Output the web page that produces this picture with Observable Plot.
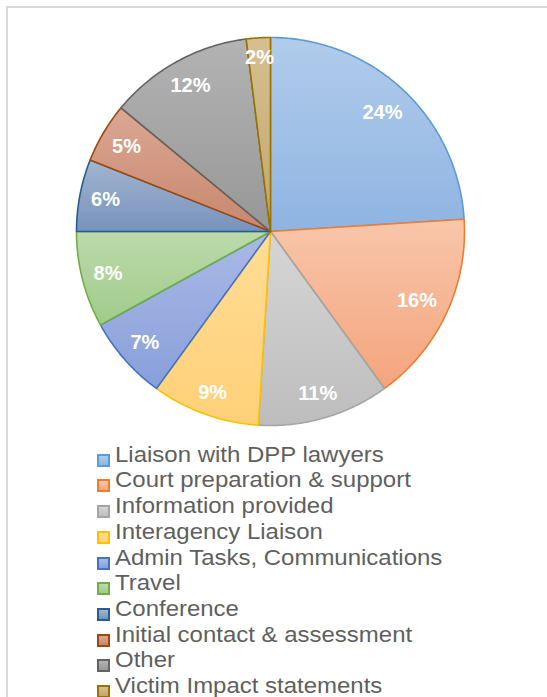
<!DOCTYPE html>
<html>
<head>
<meta charset="utf-8">
<script src="https://cdn.jsdelivr.net/npm/d3@7"></script>
<script src="https://cdn.jsdelivr.net/npm/@observablehq/plot@0.6"></script>
<style>
  html, body { margin: 0; padding: 0; background: #fff; }
  #wrap { position: relative; width: 547px; height: 697px; overflow: hidden; font-family: "Liberation Sans", Arial, sans-serif; }
  #frame { position: absolute; left: 6px; top: 6px; width: 700px; height: 900px; border: 2px solid #d9d9d9; box-sizing: border-box; }
  #chart { position: absolute; left: 0; top: 0; }
  #legend { position: absolute; left: 97px; top: 442.8px; }
  .row { position: absolute; left: 0; height: 25.7px; width: 420px; }
  .sw { position: absolute; left: 0; top: 11px; width: 13px; height: 13px; box-sizing: border-box; border: 2px solid; }
  .lab { position: absolute; left: 18px; top: 0; font-size: 21.5px; line-height: 25.7px; color: #5f5f5f; white-space: nowrap; transform: scaleX(1.115); transform-origin: 0 0; }
</style>
</head>
<body>
<div id="wrap">
  <div id="frame"></div>
  <div id="chart"></div>
  <div id="legend"></div>
</div>
<script>
const categories = [
  "Liaison with DPP lawyers",
  "Court preparation & support",
  "Information provided",
  "Interagency Liaison",
  "Admin Tasks, Communications",
  "Travel",
  "Conference",
  "Initial contact & assessment",
  "Other",
  "Victim Impact statements"
];
const values = [24, 16, 11, 9, 7, 8, 6, 5, 12, 2];
const strokeColors = ["#5B9BD5", "#ED7D31", "#A5A5A5", "#FFC000", "#4472C4", "#70AD47", "#255E91", "#9E480E", "#636363", "#997300"];
const fillTop    = ["#b1cceb", "#f8c6aa", "#d6d6d6", "#ffdd95", "#aabae6", "#bcdaab", "#a2b5d0", "#dba794", "#b3b3b3", "#d6bf92"];
const fillBottom = ["#8fb4e2", "#f4a47d", "#bdbdbd", "#ffd078", "#889fda", "#a1cb8a", "#7892bc", "#c7876c", "#979797", "#c3a66c"];

const total = d3.sum(values);
const pie = d3.pie().sort(null).value(d => d)(values);

// slice polygons in unit coordinates (angle measured clockwise from 12 o'clock)
const slices = pie.map((p, i) => {
  const pts = [{x: 0, y: 0}];
  const n = Math.max(2, Math.ceil((p.endAngle - p.startAngle) / 0.01));
  for (let k = 0; k <= n; k++) {
    const a = p.startAngle + (p.endAngle - p.startAngle) * k / n;
    pts.push({x: Math.sin(a), y: Math.cos(a)});
  }
  return pts;
});

// labels placed inside the end of each slice: the outer corner of the text box sits near the rim
const labels = pie.map((p, i) => {
  const a = (p.startAngle + p.endAngle) / 2;
  const text = Math.round(values[i] / total * 100) + "%";
  const hw = (text.length === 3 ? 20 : 14) / 194, hh = 8 / 194;
  const dx = Math.sin(a), dy = Math.cos(a);
  const b = Math.abs(dx) * hw + Math.abs(dy) * hh;
  const R = 0.945;
  const d = -b + Math.sqrt(b * b + R * R - hw * hw - hh * hh);
  return {x: d * dx, y: d * dy, text};
});

const plot = Plot.plot({
  width: 547,
  height: 440,
  marginLeft: 76,
  marginRight: 83,
  marginTop: 37,
  marginBottom: 15,
  x: {domain: [-1, 1], axis: null},
  y: {domain: [-1, 1], axis: null},
  style: {fontFamily: "'Liberation Sans', Arial, sans-serif", background: "transparent"},
  marks: [
    ...slices.map((pts, i) => Plot.line(pts, {
      x: "x", y: "y", curve: "linear-closed",
      fill: `url(#g${i})`, stroke: strokeColors[i], strokeWidth: 1.6, strokeLinejoin: "round"
    })),
    Plot.text(labels, {x: "x", y: "y", text: "text", fill: "white", fontSize: 20, fontWeight: "bold"})
  ]
});

const defs = d3.select(plot).insert("defs", ":first-child");
values.forEach((v, i) => {
  const g = defs.append("linearGradient").attr("id", `g${i}`).attr("x1", 0).attr("y1", 0).attr("x2", 0).attr("y2", 1);
  g.append("stop").attr("offset", "0%").attr("stop-color", fillTop[i]);
  g.append("stop").attr("offset", "100%").attr("stop-color", fillBottom[i]);
});

document.getElementById("chart").appendChild(plot);

const legend = d3.select("#legend");
categories.forEach((c, i) => {
  const row = legend.append("div").attr("class", "row").style("top", (i * 25.7) + "px");
  row.append("div").attr("class", "sw")
    .style("border-color", strokeColors[i])
    .style("background", `linear-gradient(${fillTop[i]}, ${fillBottom[i]})`);
  row.append("div").attr("class", "lab").text(c);
});
</script>
</body>
</html>
